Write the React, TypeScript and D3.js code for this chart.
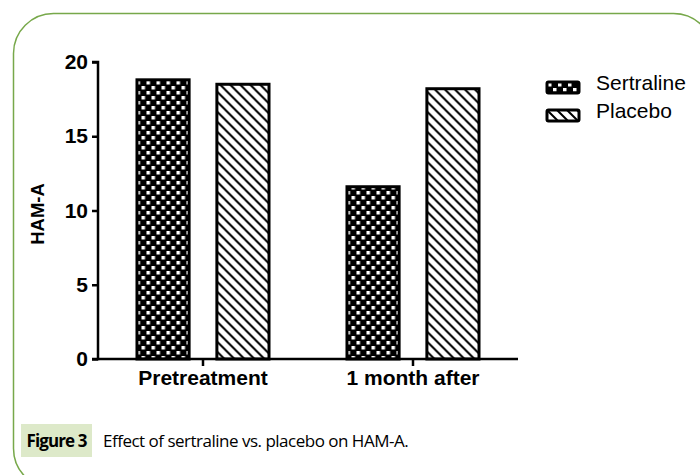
import React, { useEffect, useRef } from "react";
import * as d3 from "d3";

const groups = ["Pretreatment", "1 month after"];
const seriesNames = ["Sertraline", "Placebo"];
const sertraline = [18.8, 11.6];
const placebo = [18.5, 18.2];
const yTicks = [0, 5, 10, 15, 20];

const W = 700;
const H = 475;

export default function App() {
  const svgRef = useRef<SVGSVGElement>(null);

  useEffect(() => {
    const svg = d3.select(svgRef.current);
    svg.selectAll("*").remove();

    // frame around the figure
    svg
      .append("rect")
      .attr("x", 13.5)
      .attr("y", 13.5)
      .attr("width", 700)
      .attr("height", 475)
      .attr("rx", 40)
      .attr("fill", "white")
      .attr("stroke", "#77a84a")
      .attr("stroke-width", 1.5);

    const defs = svg.append("defs");
    const check = defs
      .append("pattern")
      .attr("id", "checker")
      .attr("patternUnits", "userSpaceOnUse")
      .attr("width", 10)
      .attr("height", 10);
    check.append("rect").attr("width", 10).attr("height", 10).attr("fill", "#000");
    check.append("rect").attr("x", 1).attr("y", 1).attr("width", 3.5).attr("height", 3.5).attr("fill", "#fff");
    check.append("rect").attr("x", 6).attr("y", 6).attr("width", 3.5).attr("height", 3.5).attr("fill", "#fff");

    const hatch = defs
      .append("pattern")
      .attr("id", "hatch")
      .attr("patternUnits", "userSpaceOnUse")
      .attr("width", 10)
      .attr("height", 10);
    hatch.append("rect").attr("width", 10).attr("height", 10).attr("fill", "#fff");
    hatch
      .append("path")
      .attr("d", "M0,0L10,10M-5,5L5,15M5,-5L15,5")
      .attr("stroke", "#000")
      .attr("stroke-width", 2);

    const fills = ["url(#checker)", "url(#hatch)"];

    const x0 = d3
      .scaleBand()
      .domain(groups)
      .range([98, 518])
      .paddingInner(0.357)
      .paddingOuter(0.1785);
    const x1 = d3
      .scaleBand()
      .domain(seriesNames)
      .range([0, x0.bandwidth()])
      .paddingInner(0.31);
    const y = d3.scaleLinear().domain([0, 20]).range([359, 62]);

    const rows = groups.map((g, i) => ({
      group: g,
      values: [
        { key: "Sertraline", value: sertraline[i] },
        { key: "Placebo", value: placebo[i] },
      ],
    }));

    svg
      .append("g")
      .selectAll("g")
      .data(rows)
      .join("g")
      .attr("transform", (d) => `translate(${x0(d.group)},0)`)
      .selectAll("rect")
      .data((d) => d.values)
      .join("rect")
      .attr("x", (d) => x1(d.key)! + 1.5)
      .attr("width", x1.bandwidth() - 3)
      .attr("y", (d) => y(d.value))
      .attr("height", (d) => y(0) - y(d.value))
      .attr("fill", (d, i) => fills[i])
      .attr("stroke", "#000")
      .attr("stroke-width", 3);

    const font = "'Liberation Sans', Arial, sans-serif";

    const yAxis = svg
      .append("g")
      .attr("transform", "translate(98,0)")
      .call(d3.axisLeft(y).tickValues(yTicks).tickSize(6).tickPadding(4));
    yAxis.select(".domain").attr("stroke-width", 2.5).attr("d", "M-6,62H0V359H-6");
    yAxis.selectAll(".tick line").attr("stroke-width", 2.5);
    yAxis
      .selectAll(".tick text")
      .attr("font-family", font)
      .attr("font-weight", "bold")
      .attr("font-size", 21)
      .attr("fill", "#000");

    const xAxis = svg
      .append("g")
      .attr("transform", "translate(0,359)")
      .call(d3.axisBottom(x0).tickSize(7).tickPadding(4).tickSizeOuter(0));
    xAxis.select(".domain").attr("stroke-width", 2.5).attr("d", "M98,0H518");
    xAxis.selectAll(".tick line").attr("stroke-width", 2.5);
    xAxis
      .selectAll(".tick text")
      .attr("font-family", font)
      .attr("font-weight", "bold")
      .attr("font-size", 21)
      .attr("fill", "#000");

    svg
      .append("text")
      .attr("transform", "translate(44,214) rotate(-90)")
      .attr("text-anchor", "middle")
      .attr("font-family", font)
      .attr("font-weight", "bold")
      .attr("font-size", 18.5)
      .text("HAM-A");

    // legend
    const legend = svg
      .append("g")
      .selectAll("g")
      .data(seriesNames)
      .join("g")
      .attr("transform", (d, i) => `translate(547,${82 + i * 28})`);
    legend
      .append("rect")
      .attr("width", 32)
      .attr("height", 11)
      .attr("rx", 1.5)
      .attr("fill", (d, i) => fills[i])
      .attr("stroke", "#000")
      .attr("stroke-width", 3);
    legend
      .append("text")
      .attr("x", 49)
      .attr("y", 8)
      .attr("font-family", font)
      .attr("font-size", 21)
      .text((d) => d);

    // caption
    svg
      .append("rect")
      .attr("x", 21)
      .attr("y", 424)
      .attr("width", 71)
      .attr("height", 33)
      .attr("fill", "#dde9c9");
    svg
      .append("text")
      .attr("x", 56.5)
      .attr("y", 447)
      .attr("text-anchor", "middle")
      .attr("font-family", "'Open Sans', sans-serif")
      .attr("font-weight", "bold")
      .attr("font-size", 17)
      .attr("letter-spacing", -0.9)
      .text("Figure 3");
    svg
      .append("text")
      .attr("x", 103)
      .attr("y", 447)
      .attr("font-family", "'Open Sans', sans-serif")
      .attr("font-size", 17)
      .attr("letter-spacing", -0.5)
      .text("Effect of sertraline vs. placebo on HAM-A.");
  }, []);

  return (
    <svg
      ref={svgRef}
      width={W}
      height={H}
      style={{ position: "absolute", left: 0, top: 0 }}
    />
  );
}
